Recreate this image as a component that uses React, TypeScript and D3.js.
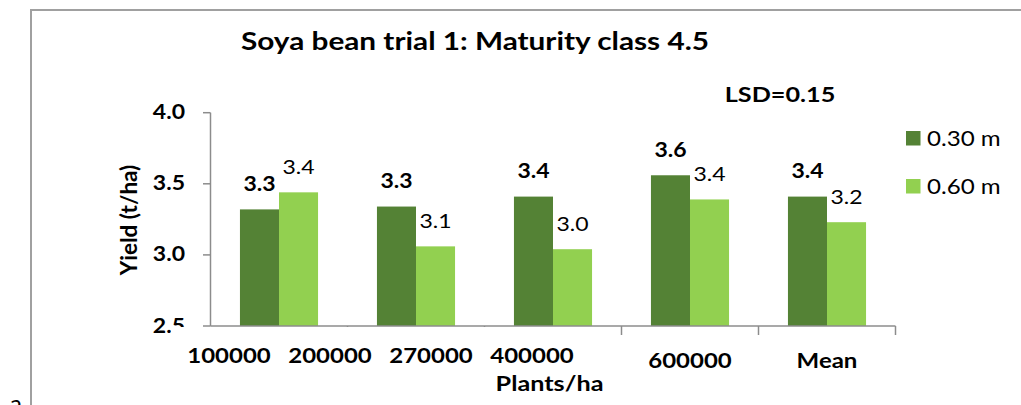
import React from "react";
import * as d3 from "d3";

const categories = ["100000/200000", "270000", "400000", "600000", "Mean"];
const series030 = [3.32, 3.34, 3.41, 3.56, 3.41];
const series060 = [3.44, 3.06, 3.04, 3.39, 3.23];
const seriesNames = ["0.30 m", "0.60 m"];
const yTicks = [2.5, 3.0, 3.5, 4.0];
const overlayTicks = ["100000", "200000", "270000", "400000"];
const title = "Soya bean trial 1: Maturity class 4.5";
const lsdText = "LSD=0.15";

const W = 1021;
const H = 405;
const FONT = "Lato, 'Open Sans', sans-serif";
const SX = 1.2;
const DARK = "#548235";
const LIGHT = "#92d050";
const AXIS = "#8c8c8c";

function T(props: {
  x: number;
  y: number;
  size: number;
  bold?: boolean;
  anchor?: "start" | "middle" | "end";
  rotate?: number;
  sx?: number;
  children: React.ReactNode;
}) {
  const { x, y, size, bold, anchor = "start", rotate = 0, sx = SX, children } = props;
  return (
    <text
      transform={`translate(${x},${y}) rotate(${rotate}) scale(${sx},1)`}
      fontFamily={FONT}
      fontSize={size}
      fontWeight={bold ? 700 : 400}
      textAnchor={anchor}
      fill="#000"
    >
      {children}
    </text>
  );
}

export default function App() {
  const x0 = d3
    .scaleBand<string>()
    .domain(categories)
    .range([210.5, 895.5])
    .paddingInner(0.43)
    .paddingOuter(0.215);
  const x1 = d3
    .scaleBand<string>()
    .domain(seriesNames)
    .range([0, x0.bandwidth()]);
  const y = d3.scaleLinear().domain([2.5, 4.0]).range([326, 112.7]);
  const fmt = d3.format(".1f");
  const xo = d3.scalePoint<string>().domain(overlayTicks).range([229, 532]);

  const series = [series030, series060];
  const colors = [DARK, LIGHT];
  const step = x0.step();
  const [r0, r1] = x0.range();
  const boundaries = d3.range(categories.length + 1).map((i) => r0 + i * step);

  return (
    <svg width={W} height={H} style={{ position: "absolute", left: 0, top: 0 }}>
      <rect x={0} y={0} width={W} height={H} fill="#fff" />
      <path d="M31,405 V10 H1021" fill="none" stroke="#a0a0a0" strokeWidth={2} />
      <T x={10} y={412} size={24} sx={1}>a</T>

      <T x={475} y={49.5} size={25} bold anchor="middle" sx={1.19}>{title}</T>
      <T x={780} y={101.5} size={21} bold anchor="middle">{lsdText}</T>

      {/* bars */}
      {categories.map((c, i) => (
        <g key={c} transform={`translate(${x0(c)},0)`}>
          {seriesNames.map((s, j) => (
            <rect
              key={s}
              x={x1(s)}
              y={y(series[j][i])}
              width={x1.bandwidth()}
              height={y(2.5) - y(series[j][i])}
              fill={colors[j]}
            />
          ))}
        </g>
      ))}

      {/* data labels */}
      {categories.map((c, i) =>
        seriesNames.map((s, j) => (
          <T
            key={c + s}
            x={(x0(c) as number) + (x1(s) as number) + x1.bandwidth() / 2}
            y={y(series[j][i]) - 18.5}
            size={20}
            bold={j === 0}
            anchor="middle"
            sx={1.15}
          >
            {fmt(series[j][i])}
          </T>
        ))
      )}

      {/* y axis */}
      <line x1={210.5} x2={210.5} y1={y(4.0)} y2={y(2.5)} stroke={AXIS} strokeWidth={1.5} />
      {yTicks.map((t) => (
        <g key={t}>
          <line x1={203} x2={210.5} y1={y(t)} y2={y(t)} stroke={AXIS} strokeWidth={1.5} />
          <T x={185} y={y(t) + 6.5} size={20} bold anchor="end" sx={1.15}>{fmt(t)}</T>
        </g>
      ))}
      <T x={137} y={220} size={22.5} bold anchor="middle" rotate={-90} sx={1}>Yield (t/ha)</T>

      {/* x axis */}
      <line x1={r0} x2={r1} y1={y(2.5)} y2={y(2.5)} stroke={AXIS} strokeWidth={1.5} />
      {boundaries.slice(1).map((b, i) => (
        <line key={i} x1={b} x2={b} y1={y(2.5)} y2={y(2.5) + 9} stroke={AXIS} strokeWidth={1.5} />
      ))}
      {categories.slice(3).map((c) => (
        <T key={c} x={(x0(c) as number) + x0.bandwidth() / 2} y={368} size={20.5} bold anchor="middle" sx={1.17}>
          {c}
        </T>
      ))}

      {/* overlay text box */}
      <rect x={171} y={327} width={427} height={73} fill="#fff" />
      {overlayTicks.map((t) => (
        <T key={t} x={xo(t) as number} y={363} size={20.5} bold anchor="middle" sx={1.17}>{t}</T>
      ))}
      <T x={549.5} y={391} size={21} bold anchor="middle" sx={1.2}>Plants/ha</T>

      {/* legend */}
      {seriesNames.map((s, j) => (
        <g key={s}>
          <rect x={906} y={131 + j * 48} width={14.5} height={14.5} fill={colors[j]} />
          <T x={927} y={145.5 + j * 48} size={21} sx={1.15}>{s}</T>
        </g>
      ))}
    </svg>
  );
}
